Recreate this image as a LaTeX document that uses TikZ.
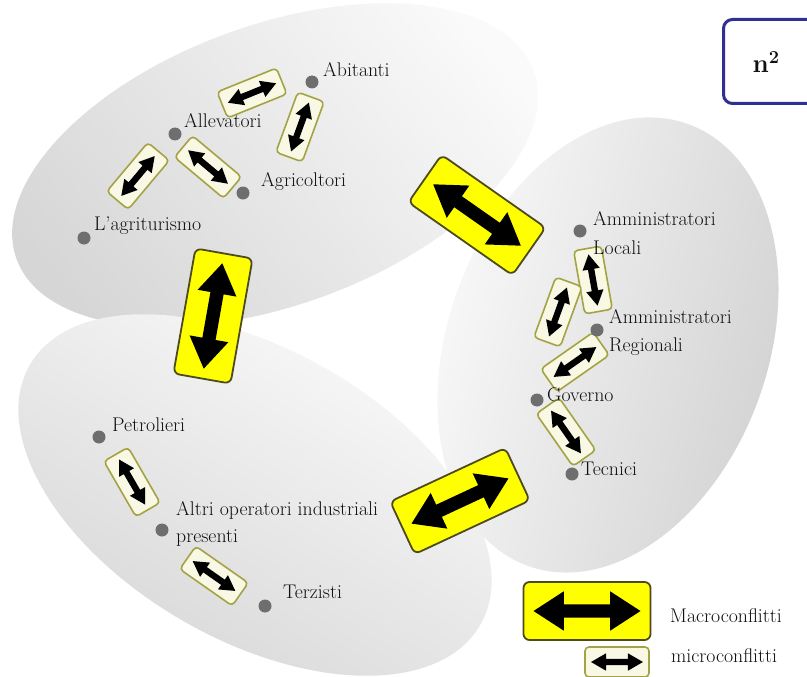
\documentclass[tikz,border=0pt]{standalone}
\usepackage{fontspec}
\usetikzlibrary{shapes.arrows}
\definecolor{dotgray}{HTML}{6E6E6E}
\definecolor{signfill}{HTML}{F8F8E4}
\definecolor{signedge}{HTML}{A3A345}
\definecolor{macroedge}{HTML}{4D4A1E}
\definecolor{navyedge}{HTML}{2E3190}
\definecolor{signyellow}{HTML}{FFFF00}
\definecolor{txt}{HTML}{101010}
\begin{document}
\begin{tikzpicture}[x=1pt,y=-1pt,
  ssign/.style={rectangle, draw=signedge, fill=signfill, line width=1.6pt, rounded corners=4pt,
    minimum width=64pt, minimum height=28pt, inner sep=0pt},
  sarrow/.style={double arrow, fill=black, draw=none, inner xsep=0pt, inner ysep=3pt,
    minimum height=52pt, double arrow head extend=5.5pt, double arrow tip angle=60},
  msign/.style={rectangle, draw=macroedge, fill=signyellow, line width=1.8pt, rounded corners=6pt,
    minimum width=127pt, minimum height=58pt, inner sep=0pt},
  marrow/.style={double arrow, fill=black, draw=none, inner xsep=0pt, inner ysep=6.5pt,
    minimum height=107pt, double arrow head extend=13pt, double arrow tip angle=66},
  dotn/.style={circle, fill=dotgray, minimum size=13pt, inner sep=0pt},
  lbl/.style={anchor=base west, inner sep=0pt, text=txt, font=\fontsize{19.8}{23}\selectfont}
]
\clip (0,0) rectangle (807,677);
\fill[white] (0,0) rectangle (807,677);

% ellipses
\begin{scope}[shift={(275,165)}, rotate=20]
  \shade[top color=gray!4, bottom color=gray!32, shading angle=-50] (0,0) ellipse [x radius=275pt, y radius=140pt];
\end{scope}
\begin{scope}[shift={(255,495)}, rotate=-30]
  \shade[top color=gray!3, bottom color=gray!32, shading angle=-30] (0,0) ellipse [x radius=260pt, y radius=145pt];
\end{scope}
\begin{scope}[shift={(608,345)}, rotate=-20]
  \shade[top color=gray!3, bottom color=gray!36, shading angle=75] (0,0) ellipse [x radius=160pt, y radius=235pt];
\end{scope}

% macro signs
\node[msign, rotate=-35] (m1) at (477,215) {};
\node[marrow, rotate=-35] (ma1) at (m1.center) {};
\node[msign, rotate=80] (m2) at (213,316) {};
\node[marrow, rotate=80] (ma2) at (m2.center) {};
\node[msign, rotate=25] (m3) at (460,501) {};
\node[marrow, rotate=25] (ma3) at (m3.center) {};

% micro signs
\node[ssign, rotate=22] (s1) at (252,93) {};
\node[sarrow, rotate=22] (sa1) at (s1.center) {};
\node[ssign, rotate=70] (s2) at (300,127) {};
\node[sarrow, rotate=70] (sa2) at (s2.center) {};
\node[ssign, rotate=-40] (s3) at (208,167) {};
\node[sarrow, rotate=-40] (sa3) at (s3.center) {};
\node[ssign, rotate=50] (s4) at (138,176) {};
\node[sarrow, rotate=50] (sa4) at (s4.center) {};

\node[ssign, rotate=100] (r1) at (593,280) {};
\node[sarrow, rotate=100] (ra1) at (r1.center) {};
\node[ssign, rotate=70] (r2) at (558,312) {};
\node[sarrow, rotate=70] (ra2) at (r2.center) {};
\node[ssign, rotate=35] (r3) at (575,362) {};
\node[sarrow, rotate=35] (ra3) at (r3.center) {};
\node[ssign, rotate=-55] (r4) at (566,432) {};
\node[sarrow, rotate=-55] (ra4) at (r4.center) {};

\node[ssign, rotate=-60] (b1) at (132,482) {};
\node[sarrow, rotate=-60] (ba1) at (b1.center) {};
\node[ssign, rotate=-35] (b2) at (214,576) {};
\node[sarrow, rotate=-35] (ba2) at (b2.center) {};

% dots
\node[dotn] (dAbitanti) at (312,82) {};
\node[dotn] (dAllevatori) at (175,134) {};
\node[dotn] (dAgricoltori) at (243,193) {};
\node[dotn] (dAgri) at (84,238) {};
\node[dotn] (dLocali) at (580,231) {};
\node[dotn] (dRegionali) at (597,330) {};
\node[dotn] (dGoverno) at (537,400) {};
\node[dotn] (dTecnici) at (572,474) {};
\node[dotn] (dPetrolieri) at (99,437) {};
\node[dotn] (dAltri) at (162,530) {};
\node[dotn] (dTerzisti) at (265,606) {};

% labels
\node[lbl] (tAbitanti) at (323,77) {Abitanti};
\node[lbl] (tAllevatori) at (184,128) {Allevatori};
\node[lbl] (tAgricoltori) at (261,186) {Agricoltori};
\node[lbl] (tAgri) at (94,230) {L’agriturismo};
\node[lbl] (tLocaliA) at (593,225) {Amministratori};
\node[lbl] (tLocaliB) at (593,254) {Locali};
\node[lbl] (tRegionaliA) at (609,323) {Amministratori};
\node[lbl] (tRegionaliB) at (609,351) {Regionali};
\node[lbl] (tGoverno) at (547,401) {Governo};
\node[lbl] (tTecnici) at (581,475) {Tecnici};
\node[lbl] (tPetrolieri) at (112,431) {Petrolieri};
\node[lbl] (tAltriA) at (176,515) {Altri operatori industriali};
\node[lbl] (tAltriB) at (176,542) {presenti};
\node[lbl] (tTerzisti) at (283,598) {Terzisti};

% n^2 box
\node[draw=navyedge, line width=3pt, rounded corners=9pt, minimum width=120pt, minimum height=84pt,
  inner sep=0pt, anchor=north west] (nbox) at (722,18) {};
\node[text=txt, font=\fontsize{26}{30}\selectfont\bfseries] (ntext) at (766,62) {n\textsuperscript{2}};

% legend
\node[msign] (lm) at (587,611) {};
\node[marrow] (lma) at (lm.center) {};
\node[ssign, minimum height=30pt] (ls) at (617,662) {};
\node[sarrow] (lsa) at (ls.center) {};
\node[lbl] (tMacro) at (670,622) {Macroconflitti};
\node[lbl] (tMicro) at (671,662) {microconflitti};
\end{tikzpicture}
\end{document}
